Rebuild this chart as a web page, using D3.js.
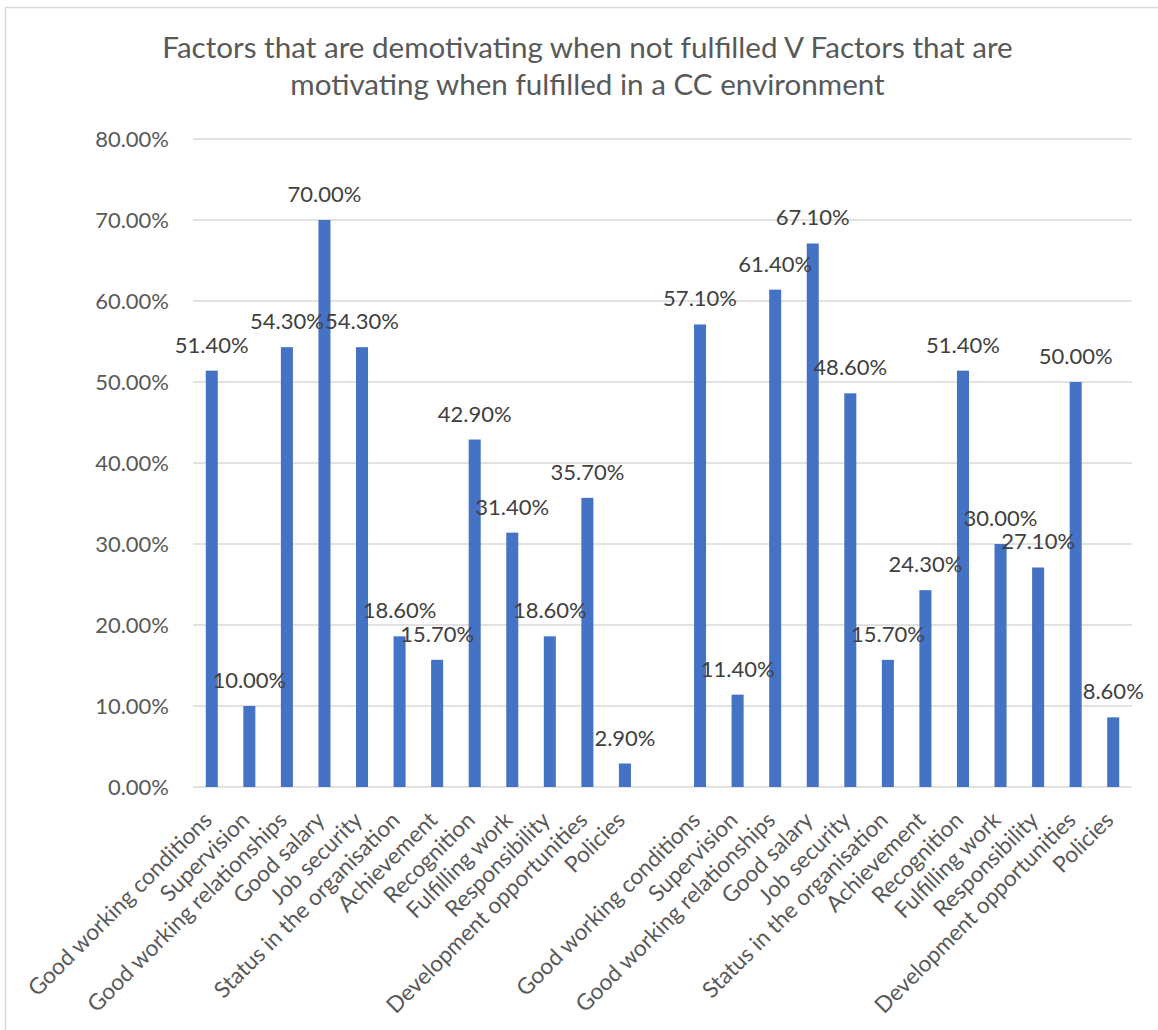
<!DOCTYPE html>
<html>
<head>
<meta charset="utf-8">
<script src="https://cdn.jsdelivr.net/npm/d3@7"></script>
<style>
  html, body { margin: 0; padding: 0; background: #fff; }
  svg { display: block; }
  text { font-family: Lato, "Noto Sans", sans-serif; }
</style>
</head>
<body>
<svg id="chart" width="1158" height="1030"></svg>
<script>
// ---- data ----
const factorNames = ["Good working conditions", "Supervision", "Good working relationships", "Good salary",
  "Job security", "Status in the organisation", "Achievement", "Recognition", "Fulfilling work",
  "Responsibility", "Development opportunities", "Policies"];
const demotivatingValues = [51.4, 10.0, 54.3, 70.0, 54.3, 18.6, 15.7, 42.9, 31.4, 18.6, 35.7, 2.9];
const motivatingValues = [57.1, 11.4, 61.4, 67.1, 48.6, 15.7, 24.3, 51.4, 30.0, 27.1, 50.0, 8.6];
const yTicks = [0, 10, 20, 30, 40, 50, 60, 70, 80];
const titleLines = ["Factors that are demotivating when not fulfilled V Factors that are",
  "motivating when fulfilled in a CC environment"];

// combined category list: group 1, blank spacer, group 2
const rows = [];
factorNames.forEach((n, i) => rows.push({ key: "a" + i, label: n, value: demotivatingValues[i] }));
rows.push({ key: "gap", label: "", value: null });
factorNames.forEach((n, i) => rows.push({ key: "b" + i, label: n, value: motivatingValues[i] }));

const svg = d3.select("#chart");
const W = 1158, H = 1030;
const plot = { left: 193, right: 1132, top: 139, bottom: 787 };

// outer border
svg.append("rect").attr("x", 5.5).attr("y", 7.5).attr("width", W + 10).attr("height", H + 10)
  .attr("fill", "#fff").attr("stroke", "#d9d9d9").attr("stroke-width", 1.5);

const x = d3.scaleBand().domain(rows.map(d => d.key))
  .range([plot.left, plot.right]).paddingInner(0.68).paddingOuter(0.34);
const y = d3.scaleLinear().domain([0, 80]).range([plot.bottom, plot.top]);

// gridlines
svg.append("g").selectAll("line").data(yTicks).join("line")
  .attr("x1", plot.left).attr("x2", plot.right)
  .attr("y1", d => y(d)).attr("y2", d => y(d))
  .attr("stroke", "#d9d9d9").attr("stroke-width", 1.3);

// y axis labels
const yAxis = d3.axisLeft(y).tickValues(yTicks).tickSize(0).tickPadding(24)
  .tickFormat(d => d.toFixed(2) + "%");
const yg = svg.append("g").attr("transform", `translate(${plot.left},0)`).call(yAxis);
yg.select(".domain").remove();
yg.selectAll("text").attr("fill", "#595959").style("font-size", "22px")
  .style("font-family", "Lato, 'Noto Sans', sans-serif");

// bars
const data = rows.filter(d => d.value !== null);
svg.append("g").selectAll("rect").data(data).join("rect")
  .attr("x", d => x(d.key)).attr("width", x.bandwidth())
  .attr("y", d => y(d.value)).attr("height", d => y(0) - y(d.value))
  .attr("fill", "#4472C4");

// data labels
svg.append("g").selectAll("text").data(data).join("text")
  .attr("x", d => x(d.key) + x.bandwidth() / 2)
  .attr("y", d => y(d.value) - 18)
  .attr("text-anchor", "middle")
  .attr("fill", "#404040").style("font-size", "22px")
  .text(d => d.value.toFixed(2) + "%");

// x axis labels
const xAxis = d3.axisBottom(x).tickSize(0).tickPadding(0).tickFormat(k => rows.find(r => r.key === k).label);
const xg = svg.append("g").attr("transform", `translate(0,${plot.bottom})`).call(xAxis);
xg.select(".domain").remove();
xg.selectAll(".tick text")
  .attr("text-anchor", "end").attr("dy", "0.35em").attr("y", 0)
  .attr("transform", "translate(-4,29) rotate(-45)")
  .attr("fill", "#595959").style("font-size", "22.6px")
  .style("font-family", "Lato, 'Noto Sans', sans-serif");

// title
svg.append("g").selectAll("text").data(titleLines).join("text")
  .attr("x", (plot.left + plot.right) / 2 - 75).attr("y", (d, i) => 58 + i * 37)
  .attr("text-anchor", "middle").attr("fill", "#595959").style("font-size", "29.6px")
  .text(d => d);
</script>
</body>
</html>
